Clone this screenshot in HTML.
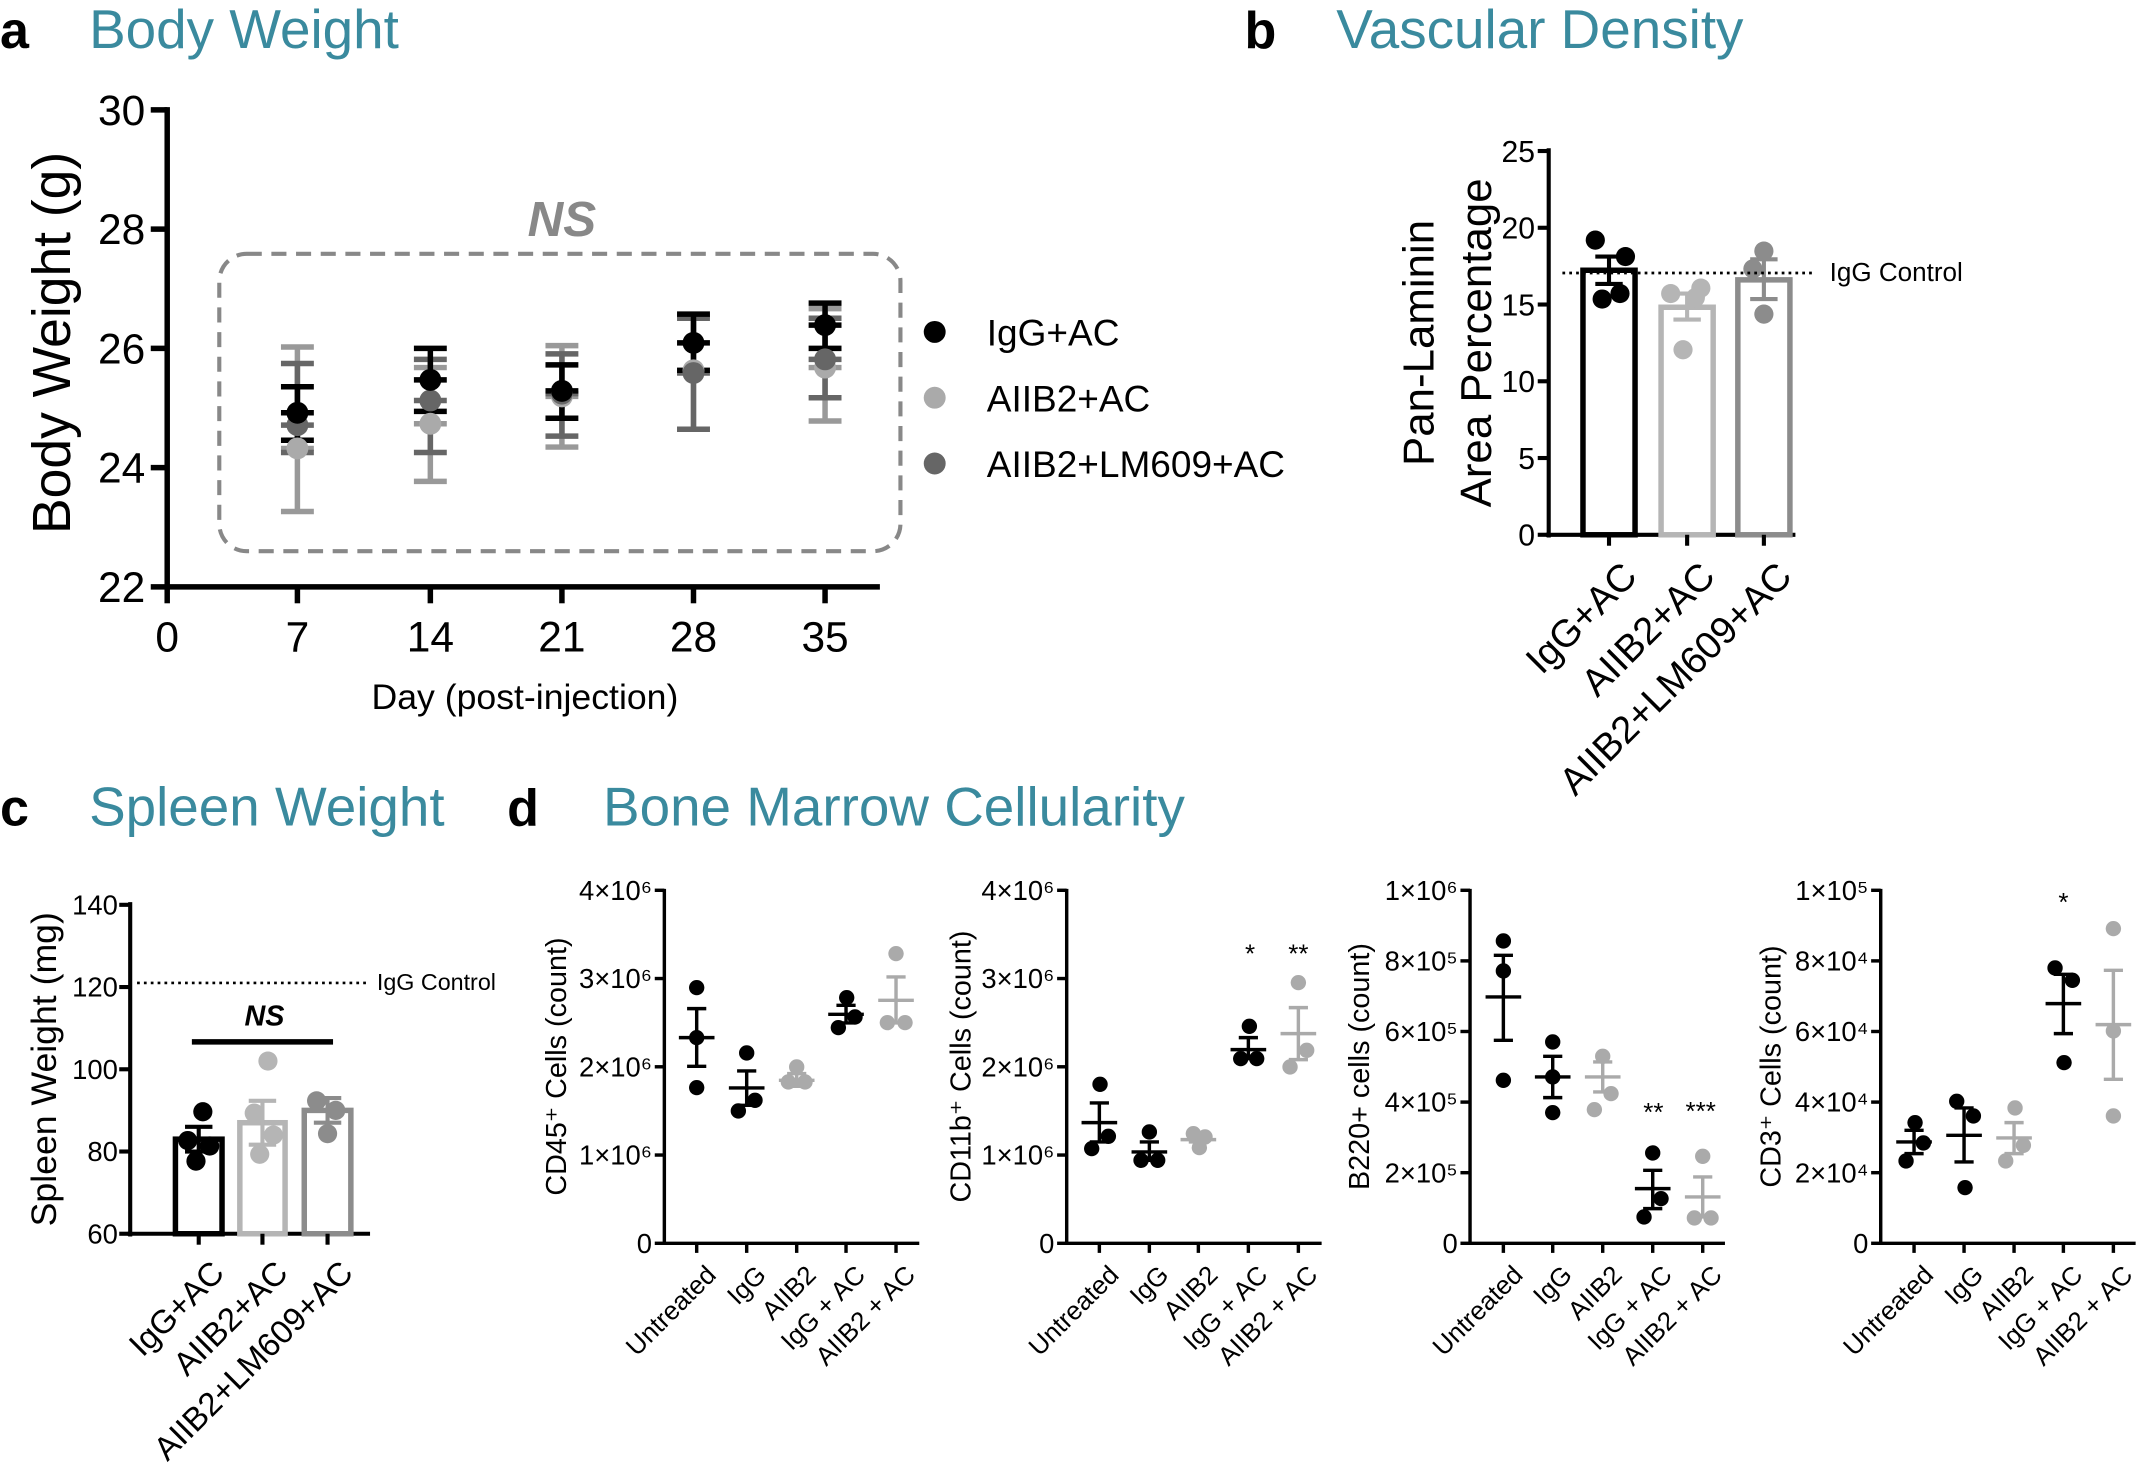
<!DOCTYPE html>
<html><head><meta charset="utf-8"><style>
html,body{margin:0;padding:0;background:#fff;}
svg{display:block;}
text{font-family:"Liberation Sans",Arial,sans-serif;}
</style></head><body>
<svg id="s" width="2149" height="1467" viewBox="0 0 1568 1070" xmlns="http://www.w3.org/2000/svg">
<g font-size="40">
<text x="0" y="35" font-weight="bold" font-size="38">a</text>
<text x="65" y="35" fill="#3a8a9e">Body Weight</text>
<text x="908" y="35" font-weight="bold" font-size="38">b</text>
<text x="975" y="35" fill="#3a8a9e">Vascular Density</text>
<text x="0" y="602" font-weight="bold" font-size="38">c</text>
<text x="65" y="602" fill="#3a8a9e">Spleen Weight</text>
<text x="370" y="602" font-weight="bold" font-size="38">d</text>
<text x="440" y="602" fill="#3a8a9e">Bone Marrow Cellularity</text>
</g>
<g stroke="#000" stroke-width="4" fill="none">
<line x1="122" y1="78" x2="122" y2="430"/><line x1="120" y1="428" x2="642" y2="428"/>
</g>
<g id="aT"></g>
<text x="38" y="250" font-size="39" text-anchor="middle" transform="rotate(-90 38 250)" dy="13">Body Weight (g)</text>
<text x="383" y="517" font-size="26" text-anchor="middle">Day (post-injection)</text>
<rect x="160" y="185" width="497" height="217" rx="20" fill="none" stroke="#888" stroke-width="3" stroke-dasharray="11,7"/>
<text x="410" y="172" font-size="36" font-style="italic" font-weight="bold" fill="#888" text-anchor="middle">NS</text>
<g id="aD"></g>
<circle cx="682" cy="242" r="8" fill="#000"/><text x="720" y="252" font-size="27">IgG+AC</text>
<circle cx="682" cy="290" r="8" fill="#aaa"/><text x="720" y="300" font-size="27">AIIB2+AC</text>
<circle cx="682" cy="338" r="8" fill="#666"/><text x="720" y="348" font-size="27">AIIB2+LM609+AC</text>
<g id="b"></g>
<text font-size="32" text-anchor="middle" transform="translate(1035 250) rotate(-90)" dy="11">Pan-Laminin</text>
<text font-size="32" text-anchor="middle" transform="translate(1077 250) rotate(-90)" dy="11">Area Percentage</text>
<line x1="1140" y1="199" x2="1325" y2="199" stroke="#000" stroke-width="2" stroke-dasharray="2,3"/>
<text x="1335" y="205" font-size="19">IgG Control</text>
<g id="c"></g>
<text font-size="26" text-anchor="middle" transform="translate(32 780) rotate(-90)" dy="9">Spleen Weight (mg)</text>
<line x1="100" y1="717" x2="270" y2="717" stroke="#000" stroke-width="2" stroke-dasharray="2,3"/>
<text x="275" y="722" font-size="17">IgG Control</text>
<line x1="140" y1="760" x2="243" y2="760" stroke="#000" stroke-width="4"/>
<text x="193" y="748" font-size="21" font-style="italic" font-weight="bold" text-anchor="middle">NS</text>
<g id="d"></g>
</svg>
<script>
const NS="http://www.w3.org/2000/svg";
function el(p,t,a,txt){const e=document.createElementNS(NS,t);for(const k in a)e.setAttribute(k,a[k]);if(txt!==undefined)e.textContent=txt;document.getElementById(p).appendChild(e);return e;}
function line(p,x1,y1,x2,y2,c,w){el(p,'line',{x1,y1,x2,y2,stroke:c||'#000','stroke-width':w||3});}
[[30,80],[28,167],[26,254],[24,341],[22,428]].forEach(([v,y])=>{line('aT',110,y,122,y,'#000',4);el('aT','text',{x:106,y:y+11,'font-size':31,'text-anchor':'end'},v);});
[[0,122],[7,217],[14,314],[21,410],[28,506],[35,602]].forEach(([v,x])=>{line('aT',x,428,x,440,'#000',4);el('aT','text',{x:x,y:475,'font-size':31,'text-anchor':'middle'},v);});
function eb(p,x,m,lo,hi,c,w){line(p,x,lo,x,hi,c,w);line(p,x-12,lo,x+12,lo,c,w);line(p,x-12,hi,x+12,hi,c,w);line(p,x-12,m,x+12,m,c,w);}
const A=[[217,[301,282,321],[310,265,330],[327,253,373]],[314,[277,254,300],[292,262,330],[309,268,351]],[410,[285,266,305],[287,258,318],[289,252,326]],[506,[250,229,270],[272,232,313],[270,230,313]],[602,[237,221,254],[262,232,290],[268,225,307]]];
A.forEach(([x,b,d,g])=>{eb('aD',x,g[0],g[1],g[2],'#999',4);eb('aD',x,d[0],d[1],d[2],'#666',4);eb('aD',x,b[0],b[1],b[2],'#000',4);
el('aD','circle',{cx:x,cy:g[0],r:8,fill:'#aaa'});el('aD','circle',{cx:x,cy:d[0],r:8,fill:'#666'});el('aD','circle',{cx:x,cy:b[0],r:8,fill:'#000'});});
line('b',1130,108,1130,392,'#000',3);line('b',1128,390,1310,390,'#000',3);
[0,5,10,15,20,25].forEach(v=>{const y=390-v*11.2;line('b',1122,y,1130,y);el('b','text',{x:1120,y:y+8,'font-size':22,'text-anchor':'end'},v);});
function bars(p,base,defs,labs,fs){defs.forEach(([x1,x2,top,c,pts,err],i)=>{el(p,'rect',{x:x1,y:top,width:x2-x1,height:base-top,fill:'#fff',stroke:c,'stroke-width':4});
const cx=(x1+x2)/2;line(p,cx,err[0],cx,err[1],c,3);line(p,cx-10,err[0],cx+10,err[0],c,3);line(p,cx-10,err[1],cx+10,err[1],c,3);
pts.forEach(([dx,y])=>el(p,'circle',{cx:cx+dx,cy:y,r:7,fill:c}));
line(p,cx,base,cx,base+8);el(p,'text',{'font-size':fs,'text-anchor':'end',transform:`translate(${cx+8} ${base+18}) rotate(-45)`,dy:fs*0.7},labs[i]);});}
const labs=['IgG+AC','AIIB2+AC','AIIB2+LM609+AC'];
bars('b',390,[[1155,1193,197,'#000',[[-10,175],[12,187],[-5,218],[8,214]],[187,207]],[1212,1250,224,'#b5b5b5',[[-12,214],[10,210],[-3,255],[6,217]],[214,233]],[1268,1306,204,'#8c8c8c',[[0,183],[0,229],[-8,196]],[189,218]]],labs,28);
line('c',95,658,95,902,'#000',3);line('c',93,900,270,900,'#000',3);
[60,80,100,120,140].forEach(v=>{const y=900-(v-60)*3;line('c',87,y,95,y);el('c','text',{x:86,y:y+7,'font-size':20,'text-anchor':'end'},v);});
bars('c',900,[[128,162,831,'#000',[[3,811],[-8,832],[8,836],[-2,847]],[822,840]],[175,208,819,'#b5b5b5',[[4,774],[-6,812],[8,828],[-2,842]],[803,835]],[222,256,810,'#8c8c8c',[[-8,803],[6,810],[0,827]],[801,819]]],labs,24);
const K=1.3705;
const sub=[{x0:530,ax:403,cats:[500,650,800,948,1098],tl:['0','1×10⁶','2×10⁶','3×10⁶','4×10⁶'],yt:'CD45⁺ Cells (count)',tx:406,
d:[['#000',[[500,352],[500,502],[500,652]],[502,415,588]],['#000',[[650,548],[625,722],[675,690]],[653,602,705]],['#aaa',[[800,590],[775,635],[825,635]],[630,610,648]],['#000',[[950,382],[925,472],[975,440]],[432,405,458]],['#aaa',[[1098,250],[1072,457],[1125,457]],[390,320,458]]],st:[]},
{x0:950,ax:350,cats:[448,598,745,895,1045],tl:['0','1×10⁶','2×10⁶','3×10⁶','4×10⁶'],yt:'CD11b⁺ Cells (count)',tx:701,
d:[['#000',[[450,642],[425,835],[475,798]],[757,698,815]],['#000',[[598,785],[573,870],[623,870]],[845,815,870]],['#aaa',[[730,790],[765,800],[748,832]],[808,800,815]],['#000',[[898,468],[872,565],[920,565]],[538,502,565]],['#aaa',[[1045,337],[1020,590],[1070,540]],[490,412,568]]],st:[[900,240,'*'],[1045,240,'**']]},
{x0:1360,ax:330,cats:[430,578,728,878,1028],tl:['0','2×10⁵','4×10⁵','6×10⁵','8×10⁵','1×10⁶'],yt:'B220+ cells (count)',tx:992,
d:[['#000',[[430,212],[430,302],[430,630]],[380,255,510]],['#000',[[578,515],[578,620],[578,727]],[620,558,682]],['#aaa',[[728,558],[703,718],[753,670]],[620,575,665]],['#000',[[878,848],[852,1040],[903,985]],[955,900,1015]],['#aaa',[[1028,858],[1003,1043],[1053,1043]],[980,920,1040]]],st:[[880,715,'**'],[1022,712,'***']]},
{x0:1760,ax:362,cats:[462,612,762,910,1060],tl:['0','2×10⁴','4×10⁴','6×10⁴','8×10⁴','1×10⁵'],yt:'CD3⁺ Cells (count)',tx:1292,
d:[['#000',[[465,757],[438,872],[490,818]],[815,780,850]],['#000',[[590,693],[640,737],[615,952]],[795,713,875]],['#aaa',[[765,713],[790,825],[737,872]],[803,757,850]],['#000',[[885,293],[937,330],[912,577]],[400,312,490]],['#aaa',[[1060,175],[1060,482],[1060,737]],[463,300,627]]],st:[[910,85,'*']]}];
const names=['Untreated','IgG','AIIB2','IgG + AC','AIIB2 + AC'];
const Y=z=>(870+z/3)/K;
sub.forEach(s=>{const X=z=>(s.x0+z/3)/K;const ax=X(s.ax),top=Y(60),bot=Y(1119);
line('d',ax,top-1,ax,bot+1,'#000',2.5);line('d',ax-1,bot,ax+186,bot,'#000',2.5);
const n=s.tl.length-1;s.tl.forEach((t,i)=>{const y=bot-i*((bot-top)/n);line('d',ax-7,y,ax,y,'#000',2.5);el('d','text',{x:ax-9,y:y+7,'font-size':20,'text-anchor':'end'},t);});
el('d','text',{'font-size':21,'text-anchor':'middle',transform:`translate(${s.tx} 778) rotate(-90)`,dy:7},s.yt);
s.cats.forEach((cz,i)=>{const x=X(cz);line('d',x,bot,x,bot+7,'#000',2.5);el('d','text',{'font-size':19,'text-anchor':'end',transform:`translate(${x+6} ${bot+15}) rotate(-45)`,dy:13},names[i]);
const [c,p,e]=s.d[i];const m=Y(e[0]),h=Y(e[1]),l=Y(e[2]);
p.forEach(([px,py])=>el('d','circle',{cx:X(px),cy:Y(py),r:5.6,fill:c}));
line('d',x,h,x,l,c,2.5);line('d',x-7,h,x+7,h,c,2.5);line('d',x-7,l,x+7,l,c,2.5);line('d',x-13,m,x+13,m,c,2.5);});
s.st.forEach(([zx,zy,t])=>el('d','text',{x:X(zx),y:Y(zy)+9,'font-size':19,'text-anchor':'middle'},t));});
</script>
</body></html>
